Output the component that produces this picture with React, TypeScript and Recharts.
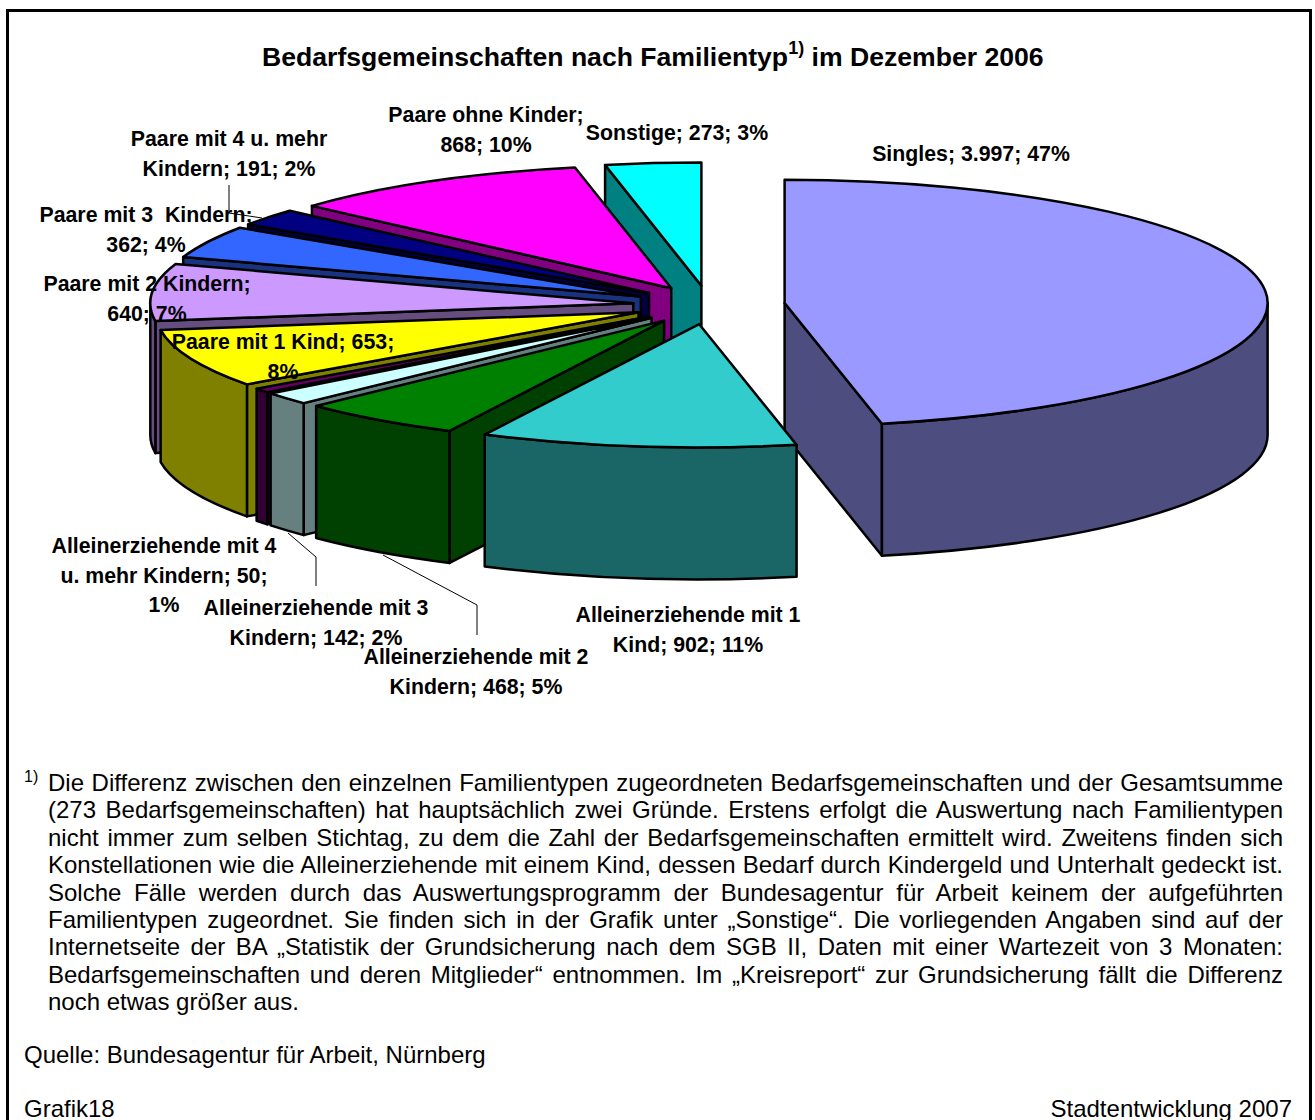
import { Pie, PieChart } from "recharts";

const categories = [
  "Singles",
  "Alleinerziehende mit 1 Kind",
  "Alleinerziehende mit 2 Kindern",
  "Alleinerziehende mit 3 Kindern",
  "Alleinerziehende mit 4 u. mehr Kindern",
  "Paare mit 1 Kind",
  "Paare mit 2 Kindern",
  "Paare mit 3 Kindern",
  "Paare mit 4 u. mehr Kindern",
  "Paare ohne Kinder",
  "Sonstige",
];
const values = [3997, 902, 468, 142, 50, 653, 640, 362, 191, 868, 273];
const topColors = [
  "#9999FF", "#33CCCC", "#008000", "#CCFFFF", "#660066", "#FFFF00",
  "#CC99FF", "#3366FF", "#000080", "#FF00FF", "#00FFFF",
];
const sideColors = [
  "#4D4D80", "#1A6666", "#004000", "#668080", "#330033", "#808000",
  "#664D80", "#1A3380", "#000040", "#800080", "#008080",
];
// how Excel wrapped each data label
const labelText = [
  ["Singles; 3.997; 47%"],
  ["Alleinerziehende mit 1", "Kind; 902; 11%"],
  ["Alleinerziehende mit 2", "Kindern; 468; 5%"],
  ["Alleinerziehende mit 3", "Kindern; 142; 2%"],
  ["Alleinerziehende mit 4", "u. mehr Kindern; 50;", "1%"],
  ["Paare mit 1 Kind; 653;", "8%"],
  ["Paare mit 2 Kindern;", "640; 7%"],
  ["Paare mit 3  Kindern;", "362; 4%"],
  ["Paare mit 4 u. mehr", "Kindern; 191; 2%"],
  ["Paare ohne Kinder;", "868; 10%"],
  ["Sonstige; 273; 3%"],
];
// label centre x, first baseline y
const labelSpots = [
  [971, 161], [688, 622], [476, 664], [316, 615], [164, 553], [283, 349],
  [147, 291], [146, 222], [229, 146], [486, 122], [677, 140],
];
const leaderLines: Record<number, string> = {
  3: "288,533 316,557 316,586",
  2: "383,555 477,605 477,635",
  8: "229,185 229,213 262,218",
};

const footnote = [
  "Die Differenz zwischen den einzelnen Familientypen zugeordneten Bedarfsgemeinschaften und der Gesamtsumme",
  "(273 Bedarfsgemeinschaften) hat hauptsächlich zwei Gründe. Erstens erfolgt die Auswertung nach Familientypen",
  "nicht immer zum selben Stichtag, zu dem die Zahl der Bedarfsgemeinschaften ermittelt wird. Zweitens finden sich",
  "Konstellationen wie die Alleinerziehende mit einem Kind, dessen Bedarf durch Kindergeld und Unterhalt gedeckt ist.",
  "Solche Fälle werden durch das Auswertungsprogramm der Bundesagentur für Arbeit keinem der aufgeführten",
  "Familientypen zugeordnet. Sie finden sich in der Grafik unter „Sonstige“.  Die vorliegenden Angaben sind auf der",
  "Internetseite der BA „Statistik der Grundsicherung nach dem SGB II, Daten mit einer Wartezeit von 3 Monaten:",
  "Bedarfsgemeinschaften und deren Mitglieder“ entnommen. Im „Kreisreport“ zur Grundsicherung fällt die Differenz",
  "noch etwas größer aus.",
];

const FONT = '"Liberation Sans", Arial, sans-serif';
const SQUASH = 0.255; // pie tilt, ry / rx
const EXPLODE = 76;
const DEPTH = 132;

// painted back to front: Singles touches nothing behind it, then counter-clockwise from Sonstige
const paintOrder = [0, 10, 9, 8, 7, 6, 5, 4, 3, 2, 1];
const rows = paintOrder.map((i) => ({
  name: categories[i],
  value: values[i],
  fill: topColors[i],
  side: sideColors[i],
  lines: labelText[i],
  spot: labelSpots[i],
  leader: leaderLines[i],
}));
const total = values.reduce((a, b) => a + b, 0);
const startAngle = 90 - (values[0] / total) * 360;

const rad = (d: number) => (d * Math.PI) / 180;

function Slice3D(props: any) {
  const { cx, cy, outerRadius: rx, fill, payload } = props;
  const ry = rx * SQUASH;
  // recharts angles run counter-clockwise from 3 o'clock, here clockwise from 12
  let a1 = 90 - props.endAngle;
  let a2 = 90 - props.startAngle;
  if (a1 < -0.001) {
    a1 += 360;
    a2 += 360;
  }
  const mid = (a1 + a2) / 2;
  const ax = cx + EXPLODE * Math.sin(rad(mid));
  const ay = cy - EXPLODE * SQUASH * Math.cos(rad(mid));
  const pt = (a: number) => [ax + rx * Math.sin(rad(a)), ay - ry * Math.cos(rad(a))];
  const [x1, y1] = pt(a1);
  const [x2, y2] = pt(a2);
  const big = a2 - a1 > 180 ? 1 : 0;
  const line = { stroke: "#000", strokeWidth: 2.5, strokeLinejoin: "round" as const };

  const wall = (x: number, y: number) =>
    `M${ax},${ay}L${x},${y}L${x},${y + DEPTH}L${ax},${ay + DEPTH}Z`;

  // a cut face only shows when it turns towards the viewer
  const showStart = a1 > 180 && a1 < 360;
  const showEnd = a2 > 0 && a2 < 180;

  const w1 = Math.max(a1, 90);
  const w2 = Math.min(a2, 270);
  let rim = "";
  if (w1 < w2) {
    const [rx1, ry1] = pt(w1);
    const [rx2, ry2] = pt(w2);
    rim =
      `M${rx1},${ry1}A${rx},${ry} 0 0 1 ${rx2},${ry2}` +
      `L${rx2},${ry2 + DEPTH}A${rx},${ry} 0 0 0 ${rx1},${ry1 + DEPTH}Z`;
  }

  return (
    <g>
      {showStart && <path d={wall(x1, y1)} fill={payload.side} {...line} />}
      {showEnd && <path d={wall(x2, y2)} fill={payload.side} {...line} />}
      {rim && <path d={rim} fill={payload.side} {...line} />}
      <path
        d={`M${ax},${ay}L${x1},${y1}A${rx},${ry} 0 ${big} 1 ${x2},${y2}Z`}
        fill={fill}
        {...line}
      />
    </g>
  );
}

function SliceLabel(props: any) {
  const row = rows[props.index];
  return (
    <g>
      {row.leader && (
        <polyline points={row.leader} fill="none" stroke="#000" strokeWidth={1} />
      )}
      <text
        textAnchor="middle"
        fontFamily={FONT}
        fontWeight="bold"
        fontSize={21.3}
        fill="#000"
        style={{ whiteSpace: "pre" }}
      >
        {row.lines.map((t, i) => (
          <tspan key={i} x={row.spot[0]} y={row.spot[1] + i * 29.5}>
            {t}
          </tspan>
        ))}
      </text>
    </g>
  );
}

const textBox = (left: number, top: number, size: number): React.CSSProperties => ({
  position: "absolute",
  left,
  top,
  fontFamily: FONT,
  fontSize: size,
  lineHeight: 1,
  color: "#000",
  whiteSpace: "pre",
});

export default function App() {
  return (
    <div
      style={{
        position: "absolute",
        left: 0,
        top: 0,
        width: 1315,
        height: 1120,
        overflow: "hidden",
        background: "#fff",
      }}
    >
      <div
        style={{
          position: "absolute",
          left: 6,
          top: 9,
          width: 1306,
          height: 1130,
          border: "3px solid #000",
          boxSizing: "border-box",
        }}
      />
      <div style={{ position: "absolute", left: 0, top: 0 }}>
        <PieChart width={1315} height={1120} margin={{ top: 0, right: 0, bottom: 0, left: 0 }}>
          <Pie
            data={rows}
            dataKey="value"
            nameKey="name"
            cx={709}
            cy={305}
            innerRadius={0}
            outerRadius={483}
            startAngle={startAngle}
            endAngle={startAngle + 360}
            shape={Slice3D}
            label={SliceLabel}
            labelLine={false}
            isAnimationActive={false}
          />
        </PieChart>
      </div>

      <div style={{ ...textBox(262, 44, 26.6), fontWeight: "bold" }}>
        Bedarfsgemeinschaften nach Familientyp
        <span style={{ fontSize: 18, position: "relative", top: -12 }}>1)</span> im Dezember 2006
      </div>

      <div style={{ ...textBox(24, 769, 16) }}>1)</div>
      {footnote.map((t, i) => (
        <div
          key={i}
          style={{
            ...textBox(48, 771 + i * 27.4, 24),
            width: 1235,
            whiteSpace: "normal",
            textAlign: "justify",
            textAlignLast: i < footnote.length - 1 ? "justify" : "left",
          }}
        >
          {t}
        </div>
      ))}

      <div style={textBox(24, 1043, 24)}>Quelle: Bundesagentur für Arbeit, Nürnberg</div>
      <div style={{ ...textBox(24, 1098, 24), lineHeight: "22px" }}>Grafik18</div>
      <div style={{ ...textBox(0, 1098, 24), lineHeight: "22px", left: "auto", right: 23 }}>
        Stadtentwicklung 2007
      </div>
    </div>
  );
}
